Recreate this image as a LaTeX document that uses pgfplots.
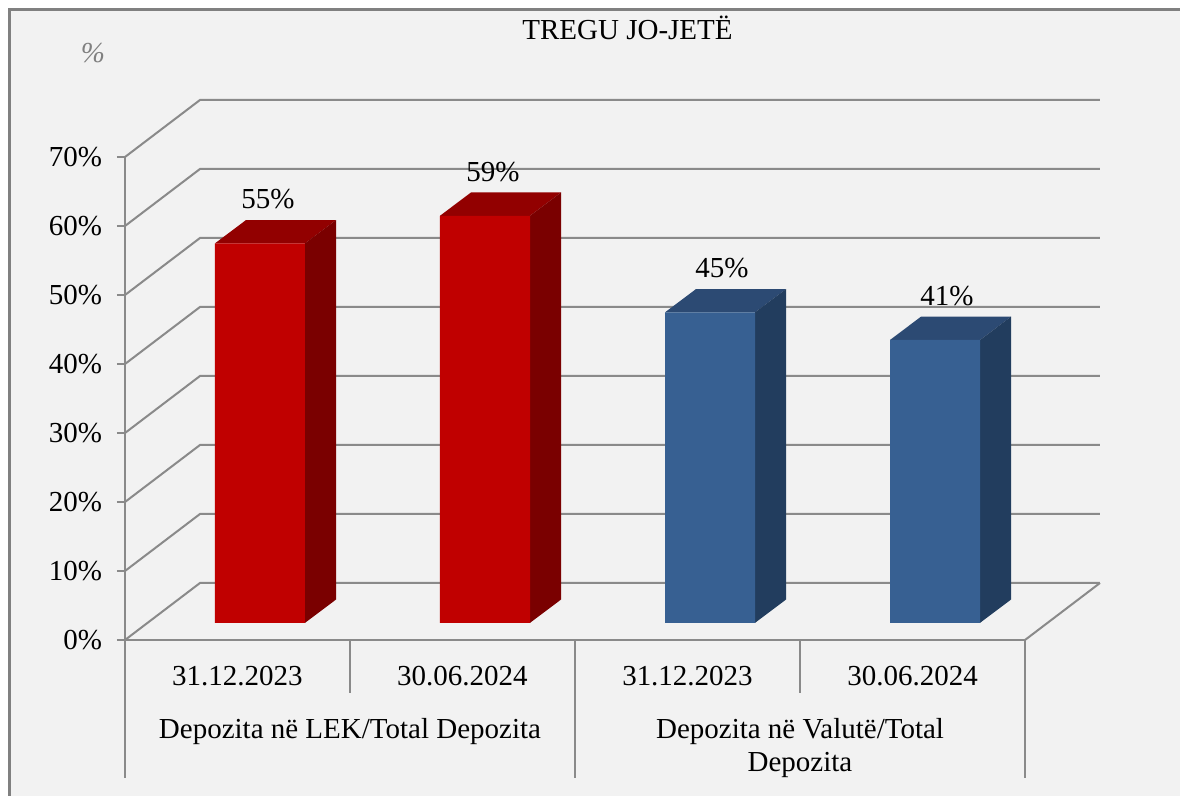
\documentclass[border=0pt]{standalone}
\usepackage{pgfplots}
\pgfplotsset{compat=1.18}
\usepackage{pgfplotstable}
\usepackage{fontspec}
\setmainfont{Liberation Serif}

\definecolor{bgc}{HTML}{F2F2F2}
\definecolor{gridc}{HTML}{8A8A8A}
\definecolor{framec}{HTML}{808080}
\definecolor{redF}{HTML}{C00000}
\definecolor{redT}{HTML}{920000}
\definecolor{redS}{HTML}{7A0000}
\definecolor{bluF}{HTML}{376092}
\definecolor{bluT}{HTML}{2C4A73}
\definecolor{bluS}{HTML}{223D5E}

% Depozita ne LEK / Total Depozita
\pgfplotstableread{
cat v
0 55
1 59
}\lek
% Depozita ne Valute / Total Depozita
\pgfplotstableread{
cat v
2 45
3 41
}\valute

% 3D geometry (x in category units, y in percent)
\def\gBX{0.1}      % bar front plane offset
\def\gBY{2.48}
\def\gDX{0.1378}   % bar depth
\def\gDY{3.38}
\def\gWX{0.3333}   % wall depth
\def\gWY{8.26}
\def\gHW{0.2}      % half bar width

\newcommand\chartfont{\fontsize{14.5}{16.5}\selectfont}

\newcommand\gridline[1]{%
  \pgfmathsetmacro\gGY{#1+\gWY}%
  \pgfmathsetmacro\gGXl{-0.5+\gWX}%
  \pgfmathsetmacro\gGXr{3.5+\gWX}%
  \edef\doplot{\noexpand\addplot[gridc, line width=1pt, mark=none, forget plot] coordinates {(-0.5,#1) (\gGXl,\gGY) (\gGXr,\gGY)};}\doplot}

\newcommand\barfaces[4]{%
  \pgfplotstablegetelem{#2}{cat}\of#1\let\gCat\pgfplotsretval
  \pgfplotstablegetelem{#2}{v}\of#1\let\gVal\pgfplotsretval
  \pgfmathsetmacro\gXl{\gCat+\gBX-\gHW}%
  \pgfmathsetmacro\gXr{\gCat+\gBX+\gHW}%
  \pgfmathsetmacro\gXlb{\gXl+\gDX}%
  \pgfmathsetmacro\gXrb{\gXr+\gDX}%
  \pgfmathsetmacro\gYb{\gBY}%
  \pgfmathsetmacro\gYbb{\gBY+\gDY}%
  \pgfmathsetmacro\gYt{\gBY+\gVal}%
  \pgfmathsetmacro\gYtb{\gBY+\gVal+\gDY}%
  \edef\doplot{%
    \noexpand\addplot[fill=#3, draw=none, mark=none, forget plot] coordinates {(\gXl,\gYt) (\gXr,\gYt) (\gXrb,\gYtb) (\gXlb,\gYtb)};
    \noexpand\addplot[fill=#4, draw=none, mark=none, forget plot] coordinates {(\gXr,\gYb) (\gXrb,\gYbb) (\gXrb,\gYtb) (\gXr,\gYt)};
  }\doplot}

\begin{document}
\begin{tikzpicture}
\fill[white] (-62.5pt,-78pt) rectangle (527.5pt,320pt);
\useasboundingbox (-62.5pt,-78pt) rectangle (527.5pt,320pt);
\fill[bgc] (-57.5pt,-78pt) rectangle (527.5pt,315pt);
\draw[framec, line width=1.5pt] (-57.5pt,-79pt) -- (-57.5pt,315pt) -- (528pt,315pt);
\begin{axis}[
  at={(0pt,0pt)}, anchor=south west,
  x=112.5pt, y=3.45pt,
  xmin=-0.5, xmax=3.5, ymin=0, ymax=70,
  clip=false,
  axis x line*=bottom, axis y line*=left,
  axis line style={gridc, line width=1pt},
  /pgf/number format/assume math mode=true,
  tick label style={font=\chartfont},
  ytick={0,10,...,70},
  yticklabel={\pgfmathprintnumber{\tick}\%},
  ytick style={gridc, line width=1pt},
  tick align=outside,
  major tick length=4pt,
  yticklabel style={xshift=-4pt},
  xtick={0,1,2,3},
  xticklabels={31.12.2023,30.06.2024,31.12.2023,30.06.2024},
  xtick style={draw=none},
  xticklabel style={yshift=-5.7pt},
  extra x ticks={0.5,2.5},
  extra x tick labels={Depozita në LEK/Total Depozita,{Depozita në Valutë/Total\\Depozita}},
  extra x tick style={xtick style={draw=none}, xticklabel style={yshift=-26pt, align=center}},
]
% walls and floor
\pgfplotsinvokeforeach{0,10,...,70}{\gridline{#1}}
\addplot[gridc, line width=1pt, mark=none, forget plot] coordinates {(3.5,0) (3.8333,8.26)};
% category separators
\addplot[gridc, line width=1pt, mark=none, forget plot] coordinates {(-0.5,0) (-0.5,-20)};
\addplot[gridc, line width=1pt, mark=none, forget plot] coordinates {(0.5,0) (0.5,-7.68)};
\addplot[gridc, line width=1pt, mark=none, forget plot] coordinates {(1.5,0) (1.5,-20)};
\addplot[gridc, line width=1pt, mark=none, forget plot] coordinates {(2.5,0) (2.5,-7.68)};
\addplot[gridc, line width=1pt, mark=none, forget plot] coordinates {(3.5,0) (3.5,-20)};
% bars: top and side faces
\barfaces{\lek}{0}{redT}{redS}
\barfaces{\lek}{1}{redT}{redS}
\barfaces{\valute}{0}{bluT}{bluS}
\barfaces{\valute}{1}{bluT}{bluS}
% bars: front faces with labels
\addplot[ybar, bar width=0.4, bar shift=0pt, fill=redF, draw=none, yshift=8.556pt,
  point meta=rawy, nodes near coords={\pgfmathprintnumber{\pgfplotspointmeta}\%},
  every node near coord/.append style={font=\chartfont, text=black, anchor=center, xshift=4pt, yshift=22pt}]
  table[x expr=\thisrow{cat}+\gBX, y=v] {\lek};
\addplot[ybar, bar width=0.4, bar shift=0pt, fill=bluF, draw=none, yshift=8.556pt,
  point meta=rawy, nodes near coords={\pgfmathprintnumber{\pgfplotspointmeta}\%},
  every node near coord/.append style={font=\chartfont, text=black, anchor=center, xshift=6pt, yshift=22pt}]
  table[x expr=\thisrow{cat}+\gBX, y=v] {\valute};
\end{axis}
\node[font=\chartfont, anchor=base] at (251.25pt,300pt) {TREGU JO-JETË};
\node[font=\chartfont\itshape, text=framec, anchor=base] at (-16pt,288.5pt) {\%};
\end{tikzpicture}
\end{document}
